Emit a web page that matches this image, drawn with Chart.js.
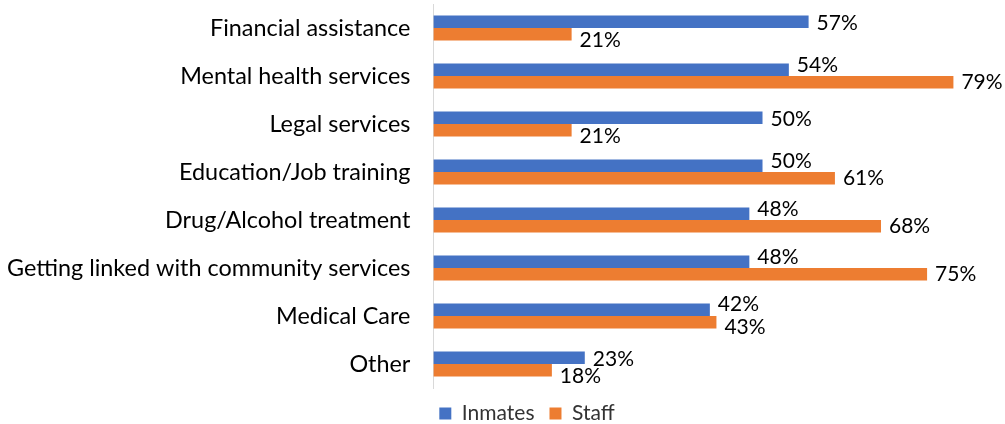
<!DOCTYPE html>
<html>
<head>
<meta charset="utf-8">
<script src="https://cdn.jsdelivr.net/npm/chart.js@4"></script>
<style>
    body { margin: 0; background: #ffffff; }
    #wrap { width: 1005px; height: 424px; }
</style>
</head>
<body>
<div id="wrap"><canvas id="servicesChart" width="1005" height="424"></canvas></div>
<script>
const categories = [
    'Financial assistance',
    'Mental health services',
    'Legal services',
    'Education/Job training',
    'Drug/Alcohol treatment',
    'Getting linked with community services',
    'Medical Care',
    'Other'
];
const inmates = [57, 54, 50, 50, 48, 48, 42, 23];
const staff = [21, 79, 21, 61, 68, 75, 43, 18];

// draws the "57%" style labels at the end of each bar
// the longer bar keeps its label centred, the shorter one is nudged away
const barLabels = {
    id: 'barLabels',
    afterLayout(chart) {
        // legend sits a bit right of the canvas centre in the original
        chart.legend.left += 55;
        chart.legend.right += 55;
    },
    afterDatasetsDraw(chart) {
        const ctx = chart.ctx;
        const sets = chart.data.datasets;
        ctx.save();
        ctx.font = '21px Lato, "Open Sans", sans-serif';
        ctx.fillStyle = '#000000';
        ctx.textBaseline = 'middle';
        ctx.textAlign = 'left';
        const blueBars = chart.getDatasetMeta(0).data;
        const orangeBars = chart.getDatasetMeta(1).data;
        blueBars.forEach((bar, j) => {
            const a = sets[0].data[j];
            const b = sets[1].data[j];
            let upShift = 0, downShift = 0;
            if (Math.abs(a - b) <= 2) {
                upShift = -7; downShift = 5;
            } else if (a > b) {
                downShift = 6;
            } else {
                upShift = -6;
            }
            ctx.fillText(a + '%', bar.x + 8, bar.y + upShift + 1);
            const ob = orangeBars[j];
            ctx.fillText(b + '%', ob.x + 8, ob.y + downShift);
        });
        ctx.restore();
    }
};

new Chart(document.getElementById('servicesChart'), {
    type: 'bar',
    data: {
        labels: categories,
        datasets: [
            {
                label: 'Inmates',
                data: inmates,
                backgroundColor: '#4472C4',
                categoryPercentage: 0.52,
                barPercentage: 1
            },
            {
                label: 'Staff',
                data: staff,
                backgroundColor: '#ED7D31',
                categoryPercentage: 0.52,
                barPercentage: 1
            }
        ]
    },
    options: {
        indexAxis: 'y',
        responsive: false,
        animation: false,
        layout: {
            padding: { top: 4, right: 45, left: -16, bottom: -10 }
        },
        plugins: {
            legend: {
                position: 'bottom',
                labels: {
                    boxWidth: 12,
                    boxHeight: 12,
                    padding: 15,
                    color: '#333333',
                    font: { family: 'Lato, "Open Sans", sans-serif', size: 21 }
                }
            },
            tooltip: { enabled: false }
        },
        scales: {
            x: {
                display: false,
                min: 0,
                max: 80
            },
            y: {
                grid: { display: false, drawTicks: false },
                border: { color: '#d9d9d9', width: 1 },
                ticks: {
                    color: '#000000',
                    padding: 23,
                    font: { family: 'Lato, "Open Sans", sans-serif', size: 23.4 }
                },
                afterFit(scale) {
                    // tick padding should only push labels sideways, not shrink the plot vertically
                    scale.paddingTop = 0;
                    scale.paddingBottom = 0;
                }
            }
        }
    },
    plugins: [barLabels]
});
</script>
</body>
</html>
